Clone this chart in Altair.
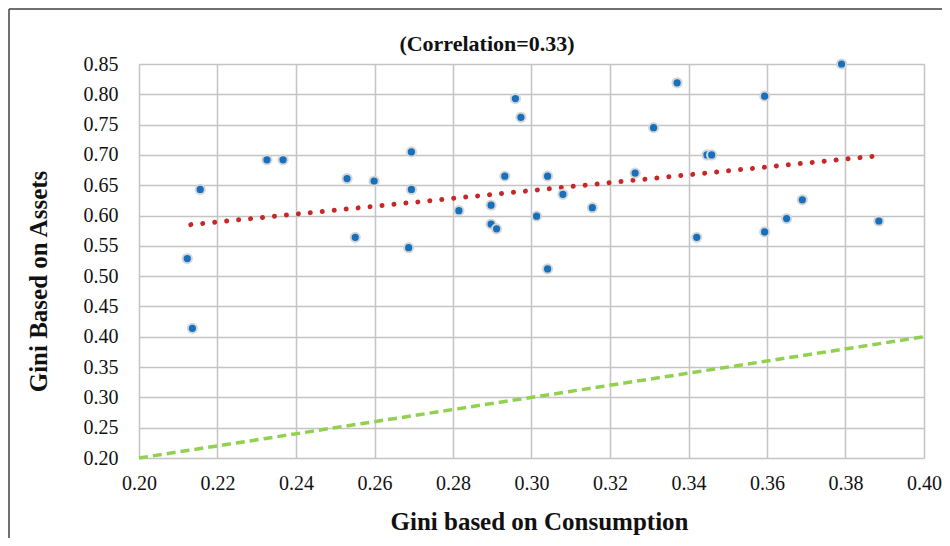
import altair as alt
import pandas as pd

# Gini based on consumption (x) and on assets (y)
consumption = [0.2123, 0.2136, 0.2156, 0.2326, 0.2367, 0.2530, 0.2551, 0.2599,
               0.2687, 0.2694, 0.2694, 0.2815, 0.2897, 0.2897, 0.2911, 0.2932,
               0.2959, 0.2973, 0.3013, 0.3041, 0.3041, 0.3080, 0.3155, 0.3264,
               0.3311, 0.3371, 0.3421, 0.3447, 0.3459, 0.3594, 0.3594, 0.3650,
               0.3690, 0.3790, 0.3885]
assets = [0.529, 0.414, 0.643, 0.692, 0.692, 0.661, 0.564, 0.657,
          0.547, 0.705, 0.643, 0.608, 0.617, 0.586, 0.578, 0.665,
          0.793, 0.762, 0.599, 0.665, 0.512, 0.635, 0.613, 0.670,
          0.745, 0.819, 0.564, 0.700, 0.700, 0.797, 0.573, 0.595,
          0.626, 0.850, 0.591]

# linear trend line (endpoints)
trend_x = [0.2132, 0.3875]
trend_y = [0.585, 0.698]

# line of equality
equality_x = [0.20, 0.40]
equality_y = [0.20, 0.40]

x_ticks = [0.20, 0.22, 0.24, 0.26, 0.28, 0.30, 0.32, 0.34, 0.36, 0.38, 0.40]
y_ticks = [0.20, 0.25, 0.30, 0.35, 0.40, 0.45, 0.50, 0.55, 0.60, 0.65, 0.70, 0.75, 0.80, 0.85]

title_text = "(Correlation=0.33)"

pts = pd.DataFrame({"x": consumption, "y": assets})
eq = pd.DataFrame({"x": equality_x, "y": equality_y})
tr = pd.DataFrame({"x": trend_x, "y": trend_y})

FONT = "Liberation Serif"
GRID = "#C4C4C4"

xscale = alt.Scale(domain=[0.20, 0.40], nice=False, zero=False)
yscale = alt.Scale(domain=[0.20, 0.85], nice=False, zero=False)

xaxis = alt.Axis(values=x_ticks, format=".2f", title="Gini based on Consumption",
                 ticks=False, tickSize=0, domain=False, labelPadding=15,
                 labelOverlap=False, labelFlush=False,
                 labelFont=FONT, labelFontSize=20, labelColor="#111",
                 titleFont=FONT, titleFontSize=25, titleFontWeight="bold",
                 titleColor="#111", titleX=400, titleY=63, titleBaseline="middle",
                 gridColor=GRID, gridWidth=1.5)
yaxis = alt.Axis(values=y_ticks, format=".2f", title="Gini Based on Assets",
                 ticks=False, tickSize=0, domain=False, labelPadding=21,
                 labelOverlap=False, labelFlush=False,
                 labelFont=FONT, labelFontSize=20, labelColor="#111",
                 titleFont=FONT, titleFontSize=25, titleFontWeight="bold",
                 titleColor="#111", titleX=-101, titleY=217, titleBaseline="middle",
                 titleAlign="center", gridColor=GRID, gridWidth=1.5)

X = alt.X("x:Q", scale=xscale, axis=xaxis)
Y = alt.Y("y:Q", scale=yscale, axis=yaxis)

dummy = pd.DataFrame({"t": [title_text]})
frame_left = alt.Chart(dummy).mark_rule(color="#404040", strokeWidth=1.5).encode(
    x=alt.value(-130), y=alt.value(-55), y2=alt.value(520))
frame_top = alt.Chart(dummy).mark_rule(color="#404040", strokeWidth=1.5).encode(
    x=alt.value(-130), x2=alt.value(900), y=alt.value(-55))

title = alt.Chart(dummy).mark_text(font=FONT, fontSize=22, fontWeight="bold",
                                   color="#111", align="center", baseline="middle").encode(
    text="t:N", x=alt.value(348), y=alt.value(-20))

equality = alt.Chart(eq).mark_line(color="#92D050", strokeWidth=3.5,
                                   strokeDash=[9, 5]).encode(x=X, y=Y)

trend = alt.Chart(tr).mark_line(
    color="#C62828", strokeWidth=5, strokeDash=[0.01, 12], strokeCap="round").encode(x=X, y=Y)

points = alt.Chart(pts).mark_point(filled=True, size=85, fill="#1670BE",
                                   stroke="#D6D6D6", strokeWidth=2, opacity=1).encode(x=X, y=Y)

chart = alt.layer(frame_left, frame_top, title, equality, trend, points).properties(
    width=785, height=394,
    padding={"left": 131, "top": 56, "right": 18, "bottom": 80},
    autosize="none",
).configure_view(stroke=GRID, strokeWidth=1.5).configure_axis(
    labelOverlap=False).configure(background="white")

chart.save("out.html", embed_options={"renderer": "svg", "actions": False})
